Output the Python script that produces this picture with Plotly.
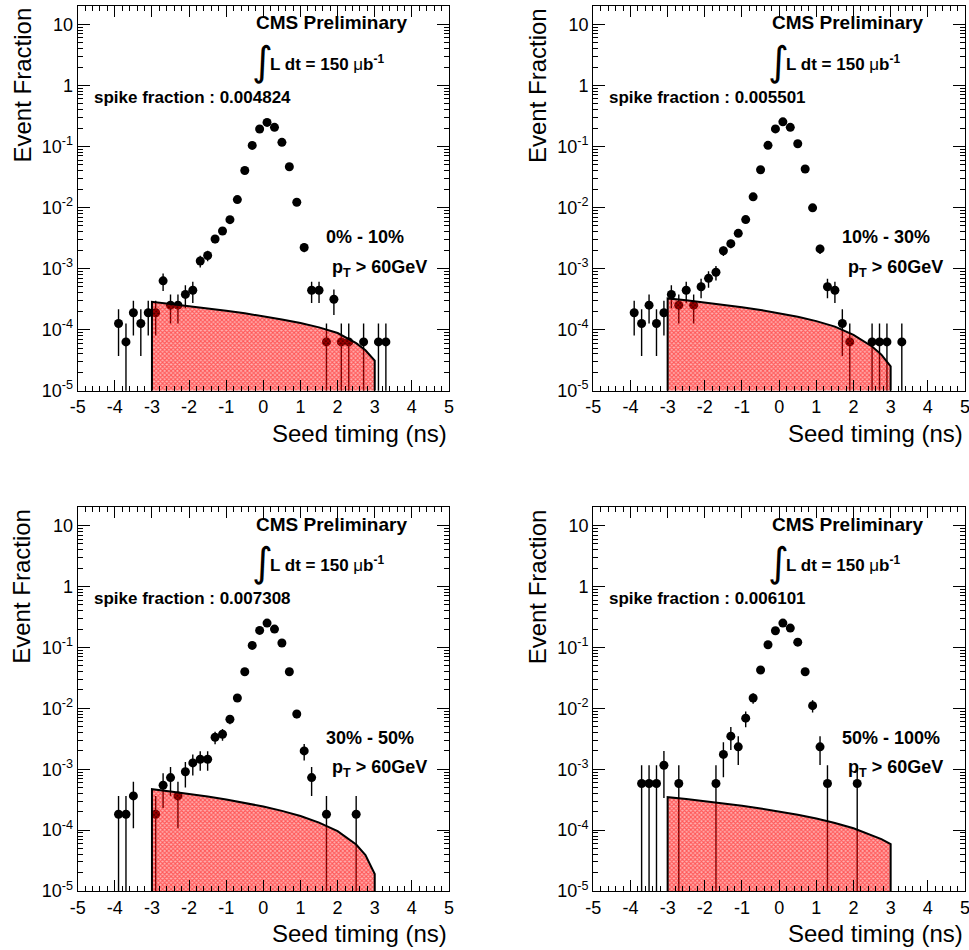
import plotly.graph_objects as go

# ---------------- data ----------------
# Panel 1 : 0% - 10%
x1 = [-3.9, -3.7, -3.5, -3.3, -3.1, -2.9, -2.7, -2.5, -2.3, -2.1, -1.9, -1.7, -1.5, -1.3, -1.1,
      -0.9, -0.7, -0.5, -0.3, -0.1, 0.1, 0.3, 0.5, 0.7, 0.9, 1.1, 1.3, 1.5, 1.7, 1.9, 2.1, 2.3,
      2.7, 3.1, 3.3]
y1 = [1.26e-4, 6.3e-5, 1.89e-4, 1.26e-4, 1.89e-4, 1.89e-4, 6.3e-4, 2.52e-4, 2.52e-4, 3.78e-4,
      4.41e-4, 1.33e-3, 1.64e-3, 3.05e-3, 4.13e-3, 6.33e-3, 1.35e-2, 4.05e-2, 0.104, 0.193,
      0.248, 0.206, 0.117, 0.0465, 0.0122, 2.22e-3, 4.41e-4, 4.41e-4, 6.3e-5, 3.15e-4, 6.3e-5,
      6.3e-5, 6.3e-5, 6.3e-5, 6.3e-5]
e1 = [8.9e-5, 6.3e-5, 1.09e-4, 8.9e-5, 1.09e-4, 1.09e-4, 2.0e-4, 1.26e-4, 1.26e-4, 1.54e-4,
      1.67e-4, 2.9e-4, 3.2e-4, 4.4e-4, 5.1e-4, 6.3e-4, 9.2e-4, 1.6e-3, 2.56e-3, 3.5e-3,
      3.95e-3, 3.6e-3, 2.7e-3, 1.71e-3, 8.8e-4, 3.7e-4, 1.67e-4, 1.67e-4, 6.3e-5, 1.41e-4, 6.3e-5,
      6.3e-5, 6.3e-5, 6.3e-5, 6.3e-5]

# Panel 2 : 10% - 30%
x2 = [-3.9, -3.7, -3.5, -3.3, -3.1, -2.9, -2.7, -2.5, -2.3, -2.1, -1.9, -1.7, -1.5, -1.3, -1.1,
      -0.9, -0.7, -0.5, -0.3, -0.1, 0.1, 0.3, 0.5, 0.7, 0.9, 1.1, 1.3, 1.5, 1.7, 1.9, 2.5, 2.7,
      2.9, 3.3]
y2 = [1.89e-4, 1.26e-4, 2.52e-4, 1.26e-4, 1.89e-4, 3.78e-4, 2.52e-4, 4.41e-4, 2.52e-4, 5.04e-4,
      6.93e-4, 8.7e-4, 1.96e-3, 2.56e-3, 3.78e-3, 6.35e-3, 1.496e-2, 4.16e-2, 0.1045, 0.194,
      0.253, 0.206, 0.111, 0.0427, 9.9e-3, 2.1e-3, 5.04e-4, 4.41e-4, 1.26e-4, 6.3e-5, 6.3e-5,
      6.3e-5, 6.3e-5, 6.3e-5]
e2 = [1.09e-4, 8.9e-5, 1.26e-4, 8.9e-5, 1.09e-4, 1.54e-4, 1.26e-4, 1.67e-4, 1.26e-4, 1.78e-4,
      2.09e-4, 2.34e-4, 3.5e-4, 4.0e-4, 4.9e-4, 6.3e-4, 9.7e-4, 1.62e-3, 2.57e-3, 3.5e-3,
      4.0e-3, 3.6e-3, 2.64e-3, 1.64e-3, 7.9e-4, 3.6e-4, 1.78e-4, 1.67e-4, 8.9e-5, 6.3e-5, 6.3e-5,
      6.3e-5, 6.3e-5, 6.3e-5]

# Panel 3 : 30% - 50%
x3 = [-3.9, -3.7, -3.5, -2.9, -2.7, -2.5, -2.3, -2.1, -1.9, -1.7, -1.5, -1.3, -1.1, -0.9, -0.7,
      -0.5, -0.3, -0.1, 0.1, 0.3, 0.5, 0.7, 0.9, 1.1, 1.3, 1.7, 2.5]
y3 = [1.82e-4, 1.82e-4, 3.64e-4, 1.82e-4, 5.46e-4, 7.28e-4, 3.64e-4, 9.1e-4, 1.27e-3, 1.46e-3,
      1.46e-3, 3.35e-3, 3.75e-3, 6.6e-3, 1.48e-2, 3.99e-2, 0.108, 0.19, 0.251, 0.2, 0.118,
      0.0399, 8.07e-3, 2.0e-3, 7.28e-4, 1.82e-4, 1.82e-4]
e3 = [1.82e-4, 1.82e-4, 2.57e-4, 1.82e-4, 3.15e-4, 3.64e-4, 2.57e-4, 4.07e-4, 4.82e-4, 5.15e-4,
      5.15e-4, 7.8e-4, 8.3e-4, 1.1e-3, 1.64e-3, 2.7e-3, 4.4e-3, 5.9e-3, 6.8e-3, 6.0e-3, 4.6e-3,
      2.7e-3, 1.21e-3, 6.04e-4, 3.64e-4, 1.82e-4, 1.82e-4]

# Panel 4 : 50% - 100%
x4 = [-3.7, -3.5, -3.3, -3.1, -2.7, -1.7, -1.5, -1.3, -1.1, -0.9, -0.7, -0.5, -0.3, -0.1, 0.1,
      0.3, 0.5, 0.7, 0.9, 1.1, 1.3, 2.1]
y4 = [5.82e-4, 5.82e-4, 5.82e-4, 1.16e-3, 5.82e-4, 5.82e-4, 1.75e-3, 3.49e-3, 2.33e-3, 6.9e-3,
      1.476e-2, 4.25e-2, 0.1107, 0.1875, 0.251, 0.2075, 0.122, 0.0399, 0.01107, 2.33e-3,
      5.82e-4, 5.82e-4]
e4 = [5.82e-4, 5.82e-4, 5.82e-4, 8.23e-4, 5.82e-4, 5.82e-4, 1.01e-3, 1.43e-3, 1.16e-3, 2.0e-3,
      2.9e-3, 4.97e-3, 8.0e-3, 1.04e-2, 1.2e-2, 1.1e-2, 8.4e-3, 4.8e-3, 2.54e-3, 1.16e-3,
      5.82e-4, 5.82e-4]

# spike template (red filled area), read at these timing values
cx = [-3.0, -2.5, -2.0, -1.5, -1.0, -0.5, 0.0, 0.5, 1.0, 1.5, 2.0, 2.5, 2.75, 3.0]
c1 = [2.85e-4, 2.64e-4, 2.44e-4, 2.24e-4, 2.04e-4, 1.85e-4, 1.66e-4, 1.47e-4, 1.28e-4, 1.09e-4,
      8.8e-5, 6.0e-5, 4.6e-5, 3.1e-5]
c2 = [3.24e-4, 3.02e-4, 2.79e-4, 2.56e-4, 2.33e-4, 2.10e-4, 1.85e-4, 1.62e-4, 1.38e-4, 1.12e-4,
      8.2e-5, 5.3e-5, 3.9e-5, 2.5e-5]
c3 = [4.70e-4, 4.32e-4, 3.95e-4, 3.57e-4, 3.19e-4, 2.82e-4, 2.44e-4, 2.07e-4, 1.70e-4, 1.33e-4,
      9.6e-5, 5.8e-5, 3.9e-5, 1.9e-5]
c4 = [3.47e-4, 3.23e-4, 2.99e-4, 2.75e-4, 2.51e-4, 2.27e-4, 2.03e-4, 1.79e-4, 1.55e-4, 1.31e-4,
      1.07e-4, 8.3e-5, 7.1e-5, 5.9e-5]

centrality = ["0% - 10%", "10% - 30%", "30% - 50%", "50% - 100%"]
spike_frac = ["0.004824", "0.005501", "0.007308", "0.006101"]

y_tickvals = [1e-5, 1e-4, 1e-3, 1e-2, 1e-1, 1, 10]
y_ticktext = ["10<sup>-5</sup>", "10<sup>-4</sup>", "10<sup>-3</sup>", "10<sup>-2</sup>",
              "10<sup>-1</sup>", "1", "10"]
x_tickvals = [-5, -4, -3, -2, -1, 0, 1, 2, 3, 4, 5]

YMIN, YMAX = 1e-5, 20
FONT = "Liberation Sans, Arial, Helvetica, sans-serif"

# ---------------- layout geometry ----------------
W, H = 969, 950
panels = [
    dict(x=x1, y=y1, e=e1, c=c1, xd=(77.7, 449.0), yd=(6.0, 390.7)),
    dict(x=x2, y=y2, e=e2, c=c2, xd=(593.3, 965.0), yd=(6.0, 390.7)),
    dict(x=x3, y=y3, e=e3, c=c3, xd=(77.7, 449.0), yd=(507.3, 891.0)),
    dict(x=x4, y=y4, e=e4, c=c4, xd=(593.3, 965.0), yd=(507.3, 891.0)),
]

fig = go.Figure()
annotations = []
layout_axes = {}

for i, p in enumerate(panels):
    n = "" if i == 0 else str(i + 1)
    xa, ya = "x" + n, "y" + n
    # data points
    fig.add_trace(go.Scatter(
        x=p["x"], y=p["y"], mode="markers", xaxis=xa, yaxis=ya,
        marker=dict(color="black", size=9, symbol="circle"),
        error_y=dict(type="data", array=p["e"], visible=True, color="black",
                     thickness=1.4, width=0),
        showlegend=False, hoverinfo="x+y"))
    # spike template fill
    fx = [cx[0]] + cx + [cx[-1]]
    fy = [YMIN] + p["c"] + [YMIN]
    fig.add_trace(go.Scatter(
        x=fx, y=fy, mode="lines", xaxis=xa, yaxis=ya, fill="toself",
        fillcolor="rgba(255,0,0,0.3)",
        fillpattern=dict(shape="x", fgcolor="rgb(255,0,0)", bgcolor="rgba(255,0,0,0.3)",
                         size=3, solidity=0.6),
        line=dict(color="black", width=2),
        showlegend=False, hoverinfo="skip"))

    x0, x1p = p["xd"]
    yt, yb = p["yd"]
    xdom = [x0 / W, x1p / W]
    ydom = [1 - yb / H, 1 - yt / H]
    axis_common = dict(showline=True, linecolor="black", linewidth=1.3, mirror="allticks",
                       ticks="inside", tickcolor="black", showgrid=False, zeroline=False,
                       automargin=False, ticklabeloverflow="allow",
                       tickfont=dict(family=FONT, size=18, color="black"))
    layout_axes["xaxis" + n] = dict(
        domain=xdom, anchor=ya, range=[-5, 5], tickmode="array", tickvals=x_tickvals,
        ticktext=[str(v) for v in x_tickvals], ticklen=11, tickwidth=1.1,
        minor=dict(ticks="inside", dtick=0.2, tick0=0, ticklen=5, tickcolor="black", tickwidth=1),
        **axis_common)
    layout_axes["yaxis" + n] = dict(
        domain=ydom, anchor=xa, type="log", range=[-5, 1.301],
        tickmode="array", tickvals=y_tickvals, ticktext=y_ticktext, ticklen=12, tickwidth=1.1,
        minor=dict(ticks="inside", dtick="D1", ticklen=5, tickcolor="black", tickwidth=1),
        **axis_common)

    xr, yr = xa + " domain", ya + " domain"
    bold = dict(family=FONT, size=18, color="black")
    annotations += [
        dict(xref=xr, yref=yr, x=0.892, y=0.956, xanchor="right", yanchor="middle",
             text="<b>CMS Preliminary</b>", showarrow=False,
             font=dict(family=FONT, size=19, color="black")),
        dict(xref=xr, yref=yr, x=0.497, y=0.858, xanchor="center", yanchor="middle",
             text="∫", showarrow=False,
             font=dict(family="DejaVu Sans, sans-serif", size=40, color="black")),
        dict(xref=xr, yref=yr, x=0.513, y=0.852, xanchor="left", yanchor="middle",
             text="<b>L dt = 150 </b>μ<b>b<sup>-1</sup></b>", showarrow=False,
             font=dict(family=FONT, size=17, color="black")),
        dict(xref=xr, yref=yr, x=0.038, y=0.763, xanchor="left", yanchor="middle",
             text="<b>spike fraction : " + spike_frac[i] + "</b>", showarrow=False,
             font=dict(family=FONT, size=17, color="black")),
        dict(xref=xr, yref=yr, x=0.664, y=0.399, xanchor="left", yanchor="middle",
             text="<b>" + centrality[i] + "</b>", showarrow=False, font=bold),
        dict(xref=xr, yref=yr, x=0.68, y=0.318, xanchor="left", yanchor="middle",
             text="<b>p<sub>T</sub> > 60GeV</b>", showarrow=False, font=bold),
        dict(xref=xr, yref=yr, x=-0.15, y=1.0, xanchor="center", yanchor="top",
             text="Event Fraction", textangle=-90, showarrow=False,
             font=dict(family=FONT, size=24, color="black")),
        dict(xref=xr, yref=yr, x=1.0, y=-0.11, xanchor="right", yanchor="middle",
             text="Seed timing (ns)", showarrow=False,
             font=dict(family=FONT, size=24, color="black")),
    ]

fig.update_layout(
    width=W, height=H, margin=dict(l=0, r=0, t=0, b=0, autoexpand=False),
    paper_bgcolor="white", plot_bgcolor="white",
    font=dict(family=FONT, color="black"),
    annotations=annotations, showlegend=False,
    **layout_axes)

fig.write_html("out.html", config={"displayModeBar": False},
               post_script="document.body.style.margin='0px';document.body.style.overflow='hidden';")
